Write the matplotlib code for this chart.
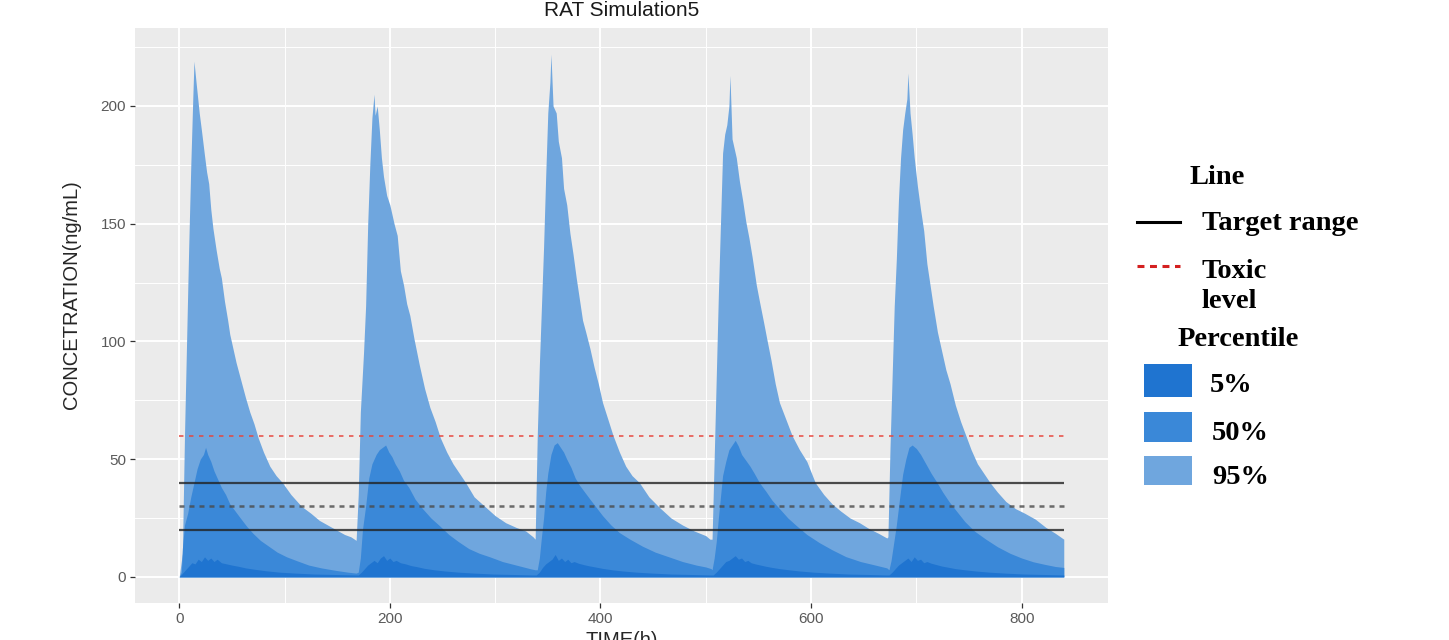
## RAT Simulation5 - concentration percentiles over five doses

import matplotlib
matplotlib.use("Agg")
import matplotlib.pyplot as plt
from matplotlib.lines import Line2D
from matplotlib.patches import Rectangle

# 95th percentile (one row per dosing cycle)
time_p95 = (
    [0, 3, 5, 7, 9, 11, 13, 14, 16, 19, 21, 24, 26, 28, 30, 32, 35, 38, 40, 43, 46, 48, 51, 54, 57, 60, 63, 67,
     71, 75, 80, 86, 92, 98, 106, 116, 125, 133, 141, 149, 157, 163, 168]
    + [170, 172, 175, 177, 179, 181, 183, 185, 186, 188, 190, 192, 194, 197, 200, 204, 207, 210, 213, 216, 219,
       223, 228, 233, 238, 243, 248, 254, 260, 266, 272, 280, 290, 300, 310, 320, 329, 336]
    + [338, 340, 342, 344, 346, 348, 350, 352, 353, 355, 358, 360, 363, 365, 368, 371, 374, 377, 380, 383, 386,
       390, 394, 398, 402, 407, 412, 418, 424, 430, 437, 446, 456, 467, 478, 489, 500, 504]
    + [506, 508, 510, 512, 514, 516, 518, 520, 522, 523, 525, 527, 529, 532, 535, 538, 541, 544, 548, 551, 555,
       558, 562, 566, 570, 576, 582, 589, 596, 604, 612, 620, 628, 637, 646, 655, 664, 672]
    + [673, 675, 677, 679, 681, 683, 685, 687, 689, 691, 692, 694, 696, 698, 701, 704, 707, 710, 713, 716, 720,
       724, 728, 732, 737, 742, 747, 752, 758, 764, 770, 777, 785, 794, 803, 813, 823, 832, 840]
)
conc_p95 = (
    [0, 10, 60, 100, 140, 175, 205, 219, 210, 197, 190, 179, 172, 167, 156, 148, 139, 131, 127, 117, 109, 103,
     97, 91, 86, 81, 76, 70, 65, 59, 53, 47, 43, 40, 35, 30, 27, 24, 22, 20, 18, 17, 15.5]
    + [35, 70, 95, 115, 150, 175, 195, 205, 196, 200, 190, 178, 170, 162, 158, 150, 145, 130, 124, 116, 111,
       101, 90, 80, 72, 66, 59, 53, 48, 44, 40, 34, 30, 26, 23, 21, 19.5, 17]
    + [16, 60, 90, 115, 140, 170, 197, 210, 222, 200, 197, 185, 178, 165, 158, 146, 137, 127, 118, 109, 104,
       97, 89, 82, 74, 67, 60, 53, 47, 43, 40, 34, 29.5, 25, 22, 19.5, 17.5, 16]
    + [16, 50, 85, 120, 150, 180, 188, 192, 200, 213, 186, 182, 178, 168, 160, 151, 144, 136, 124, 117, 108,
       101, 92, 82, 74, 67, 60, 54, 49, 40, 35, 31, 28, 25, 23, 20.5, 18.5, 16.5]
    + [17, 55, 85, 115, 135, 160, 178, 190, 197, 203, 214, 197, 188, 178, 166, 156, 147, 133, 124, 115, 104,
       96, 88, 82, 73, 66, 60, 54, 48, 44, 40, 36, 32, 29, 27, 24.5, 21, 18.5, 16]
)

# 50th percentile
time_p50 = (
    [0, 2, 3, 5, 8, 11, 14, 17, 20, 23, 25, 27, 30, 33, 36, 40, 44, 48, 53, 58, 64, 70, 77, 85, 93, 102, 112,
     123, 135, 148, 160, 168]
    + [170, 172, 174, 177, 180, 183, 187, 190, 193, 196, 199, 202, 205, 209, 213, 218, 224, 231, 239, 247, 256,
       265, 275, 285, 295, 307, 320, 333, 338]
    + [340, 342, 344, 346, 348, 350, 353, 356, 359, 362, 365, 368, 372, 376, 380, 385, 390, 396, 402, 410, 418,
       428, 440, 452, 465, 478, 491, 500, 505]
    + [506, 508, 510, 512, 514, 516, 519, 522, 525, 528, 531, 534, 538, 542, 546, 551, 557, 563, 570, 578, 586,
       596, 608, 620, 633, 647, 661, 672]
    + [674, 676, 678, 681, 684, 687, 690, 693, 696, 700, 704, 709, 714, 719, 725, 731, 738, 746, 755, 766, 777,
       789, 800, 811, 822, 832, 840]
)
conc_p50 = (
    [0, 2, 12, 22, 27, 34, 40, 46, 50, 52, 55, 52, 49, 45, 42, 38, 35, 31, 28, 25, 21.5, 18.5, 15.5, 13, 10.5,
     8.5, 6.8, 5, 3.8, 2.8, 2, 1.6]
    + [2, 8, 20, 30, 42, 48, 52, 54, 55, 56, 53, 51, 48, 45, 41, 38, 33, 29, 25, 21.8, 18, 15, 12, 10, 8.5,
       6.5, 5, 3.5, 3]
    + [3, 8, 17, 25, 36, 44, 52, 56, 57, 55, 53, 50, 46.5, 42, 39, 36, 33, 29.5, 26, 22, 18.8, 16, 13, 10.5,
       8.5, 6.5, 5, 4.2, 3.5]
    + [3, 8, 15, 25, 34, 43, 49, 54, 56, 58, 55.5, 52, 49.5, 47, 44, 40, 36.4, 32.5, 29, 25, 21.8, 18, 14.5,
       11.5, 8.6, 6.5, 5, 3.8]
    + [3, 7, 13, 22, 33, 43.6, 50, 55, 56, 54.5, 52, 48, 44, 40.5, 36, 32, 28, 23.5, 19.5, 16, 12.8, 10, 8,
       6.4, 5.3, 4.4, 4]
)

# 5th percentile
time_p05 = (
    [0, 3, 6, 9, 12, 15, 18, 21, 24, 27, 30, 33, 36, 40, 45, 50, 56, 63, 72, 82, 95, 110, 128, 148, 168]
    + [170, 173, 176, 179, 182, 185, 188, 191, 194, 197, 200, 203, 206, 210, 215, 220, 226, 233, 242, 252, 265,
       280, 298, 318, 336]
    + [339, 342, 345, 348, 351, 354, 357, 360, 363, 366, 369, 372, 375, 379, 384, 389, 395, 402, 411, 421, 434,
       449, 467, 487, 504]
    + [507, 510, 513, 516, 519, 522, 525, 528, 531, 534, 537, 540, 543, 547, 552, 557, 563, 570, 579, 589, 602,
       617, 635, 655, 672]
    + [674, 677, 680, 683, 686, 689, 692, 695, 698, 701, 704, 707, 710, 714, 719, 724, 730, 737, 746, 756, 769,
       784, 802, 822, 840]
)
conc_p05 = (
    [0, 1.5, 3, 4.5, 6, 5.5, 7.5, 6.5, 8.5, 7, 8, 6.5, 7.5, 6, 5.5, 5, 4.5, 3.8, 3.2, 2.6, 2, 1.6, 1.2, 1, 0.8]
    + [0.8, 2, 3.5, 5, 6, 7, 6, 8, 9, 7, 8, 6.5, 7, 6, 5.5, 4.8, 4.3, 3.6, 3, 2.5, 2, 1.6, 1.2, 1, 0.8]
    + [0.8, 2, 4, 5.5, 6.5, 7.5, 9.5, 7, 8, 6.5, 7.5, 6, 6.5, 5.8, 5.2, 4.7, 4.2, 3.6, 3, 2.5, 2, 1.6, 1.2, 1, 0.8]
    + [0.8, 2, 3.5, 5, 6.5, 7, 8, 9, 7.5, 8, 6.5, 7, 6, 5.5, 5, 4.5, 4, 3.5, 3, 2.5, 2, 1.6, 1.2, 1, 0.8]
    + [0.8, 2, 3.5, 5, 6, 7, 8, 6.5, 8.5, 7, 7.5, 6, 6.5, 5.8, 5.2, 4.6, 4.1, 3.5, 3, 2.5, 2, 1.6, 1.2, 1, 0.8]
)

# reference levels
target_low = 20
target_mid = 30
target_high = 40
toxic_level = 60
line_start, line_end = 0, 840

percentile_labels = ["5%", "50%", "95%"]
percentile_colors = ["#1F74D0", "#3A88D8", "#6FA6DE"]

W, H = 1449, 640


def fx(px):
    return px / W


def fy(py):
    return 1 - py / H


plt.rcParams["lines.scale_dashes"] = False

fig = plt.figure(figsize=(W / 100, H / 100), dpi=100)
ax = fig.add_axes([fx(135), fy(603), (1108 - 135) / W, (603 - 28) / H])
ax.set_facecolor("#EBEBEB")

ax.fill_between(time_p95, 0, conc_p95, color=percentile_colors[2], lw=0, zorder=2)
ax.fill_between(time_p50, 0, conc_p50, color=percentile_colors[1], lw=0, zorder=3)
ax.fill_between(time_p05, 0, conc_p05, color=percentile_colors[0], lw=0, zorder=4)

ax.hlines([target_high, target_low], line_start, line_end, colors="#222222", lw=1.6, alpha=0.8, zorder=5)
ax.hlines(target_mid, line_start, line_end, colors="#4a4a4a", lw=1.8, alpha=0.8,
          linestyles=(0, (3.6, 3.6)), zorder=5)
ax.hlines(toxic_level, line_start, line_end, colors="#E8453C", lw=1.2, alpha=0.9,
          linestyles=(0, (3.2, 4.0)), zorder=5)

ax.set_xlim(-42, 882)
ax.set_ylim(-11.1, 233.1)
ax.set_xticks([0, 200, 400, 600, 800])
ax.set_xticks([100, 300, 500, 700], minor=True)
ax.set_yticks([0, 50, 100, 150, 200])
ax.set_yticks([25, 75, 125, 175, 225], minor=True)
ax.grid(which="major", color="white", lw=1.4)
ax.grid(which="minor", color="white", lw=0.7)
ax.set_axisbelow(True)
ax.tick_params(which="minor", length=0)
ax.tick_params(which="major", length=3.5, width=0.9, color="#333333", labelsize=11,
               labelcolor="#5a5a5a", pad=3)
for lab in ax.get_xticklabels() + ax.get_yticklabels():
    lab.set_family("Liberation Sans")
for s in ax.spines.values():
    s.set_visible(False)

# titles (the x title is cut at the bottom edge, as in the source image)
fig.text(fx(622), fy(11), "RAT Simulation5", ha="center", va="center", fontsize=15,
         family="Liberation Sans", color="#1a1a1a")
fig.text(fx(72), fy(295), "CONCETRATION(ng/mL)", ha="center", va="center", rotation=90,
         fontsize=14.5, family="Liberation Sans", color="#262626")
fig.text(fx(622), fy(631), "TIME(h)", ha="center", va="top", fontsize=14.5,
         family="Liberation Sans", color="#262626")

# legend on the right, drawn by hand
lfont = dict(family="Liberation Serif", weight="bold", fontsize=20.5, color="black")
fig.text(fx(1217), fy(177), "Line", ha="center", va="center", **lfont)
fig.add_artist(Line2D([fx(1137), fx(1180)], [fy(222), fy(222)], color="black", lw=2.2,
                      transform=fig.transFigure))
fig.text(fx(1202), fy(223), "Target range", ha="left", va="center", **lfont)
fig.add_artist(Line2D([fx(1137), fx(1180)], [fy(266), fy(266)], color="#D42020", lw=2.2,
                      linestyle=(0, (5, 4)), transform=fig.transFigure))
fig.text(fx(1202), fy(271), "Toxic", ha="left", va="center", **lfont)
fig.text(fx(1202), fy(302), "level", ha="left", va="center", **lfont)
fig.text(fx(1238), fy(339), "Percentile", ha="center", va="center", **lfont)

box_tops = [364, 412, 456]
box_heights = [33, 30, 29]
text_centers = [385, 433, 477]
text_left = [1210, 1212, 1212]
for i, lab in enumerate(percentile_labels):
    fig.add_artist(Rectangle((fx(1144), fy(box_tops[i] + box_heights[i])), 48 / W, box_heights[i] / H,
                             color=percentile_colors[i], lw=0, transform=fig.transFigure))
    fig.text(fx(text_left[i]), fy(text_centers[i]), lab, ha="left", va="center", **lfont)

fig.savefig("out.png", dpi=100)
